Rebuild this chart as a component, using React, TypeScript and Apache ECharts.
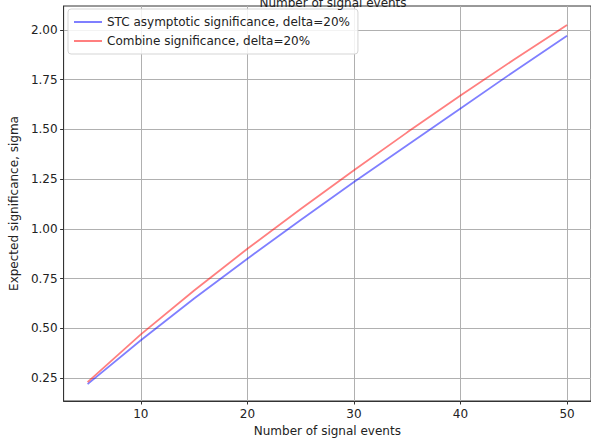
import React, { useEffect, useRef } from "react";
import * as echarts from "echarts";

const signalEvents = [5, 10, 15, 20, 25, 30, 35, 40, 45, 50];
const stcSignificance = [0.22, 0.44, 0.65, 0.85, 1.045, 1.235, 1.42, 1.605, 1.79, 1.97];
const combineSignificance = [0.23, 0.47, 0.69, 0.9, 1.1, 1.295, 1.485, 1.67, 1.85, 2.025];
const xTicks = [10, 20, 30, 40, 50];
const yTicks = [0.25, 0.5, 0.75, 1.0, 1.25, 1.5, 1.75, 2.0];
const seriesNames = ["STC asymptotic significance, delta=20%", "Combine significance, delta=20%"];

const FONT = "DejaVu Sans";
const FS = 12;

export default function App() {
  const ref = useRef<HTMLDivElement>(null);
  useEffect(() => {
    if (!ref.current) return;
    const chart = echarts.init(ref.current, null, { renderer: "svg" });
    const toPairs = (ys: number[]) => signalEvents.map((x, i) => [x, ys[i]]);
    chart.setOption({
      animation: false,
      backgroundColor: "#ffffff",
      textStyle: { fontFamily: FONT },
      title: {
        text: "Number of signal events",
        left: 328,
        textAlign: "center",
        top: -8,
        textStyle: { fontFamily: FONT, fontSize: FS, fontWeight: "normal", color: "#222" },
      },
      grid: {
        left: 63,
        top: 6,
        width: 531,
        height: 398,
        show: true,
        borderColor: "#333",
        borderWidth: 1,
        backgroundColor: "transparent",
      },
      legend: {
        left: 68,
        top: 9,
        orient: "vertical",
        icon: "rect",
        itemWidth: 28,
        itemHeight: 2,
        itemGap: 7,
        padding: [7, 8, 7, 6],
        backgroundColor: "rgba(255,255,255,0.85)",
        borderColor: "#d5d5d5",
        borderWidth: 1,
        borderRadius: 3,
        textStyle: { fontFamily: FONT, fontSize: FS, color: "#222" },
        data: seriesNames,
      },
      xAxis: {
        type: "value",
        min: 2.75,
        max: 52.25,
        name: "Number of signal events",
        nameLocation: "middle",
        nameGap: 24,
        nameTextStyle: { fontFamily: FONT, fontSize: FS, color: "#222" },
        axisLine: { show: true, onZero: false, lineStyle: { color: "#333", width: 1 } },
        axisTick: { show: true, length: 3.5, customValues: xTicks, lineStyle: { color: "#333" } },
        axisLabel: {
          customValues: xTicks,
          margin: 7,
          fontFamily: FONT,
          fontSize: FS,
          color: "#222",
        },
        splitLine: { show: true, lineStyle: { color: "#b0b0b0", width: 1 } },
      },
      yAxis: {
        type: "value",
        min: 0.135,
        max: 2.12,
        name: "Expected significance, sigma",
        nameLocation: "middle",
        nameRotate: 90,
        nameGap: 42,
        nameTextStyle: { fontFamily: FONT, fontSize: FS, color: "#222" },
        axisLine: { show: true, onZero: false, lineStyle: { color: "#333", width: 1 } },
        axisTick: { show: true, length: 3.5, customValues: yTicks, lineStyle: { color: "#333" } },
        axisLabel: {
          customValues: yTicks,
          margin: 6,
          fontFamily: FONT,
          fontSize: FS,
          color: "#222",
          formatter: (v: number) => v.toFixed(2),
        },
        splitLine: { show: true, lineStyle: { color: "#b0b0b0", width: 1 } },
      },
      series: [
        {
          name: seriesNames[0],
          type: "line",
          data: toPairs(stcSignificance),
          symbol: "none",
          color: "rgba(0,0,255,0.5)",
          lineStyle: { color: "rgba(0,0,255,0.5)", width: 1.8 },
          z: 3,
        },
        {
          name: seriesNames[1],
          type: "line",
          data: toPairs(combineSignificance),
          symbol: "none",
          color: "rgba(255,0,0,0.5)",
          lineStyle: { color: "rgba(255,0,0,0.5)", width: 1.8 },
          z: 3,
        },
      ],
    });
    return () => chart.dispose();
  }, []);
  return (
    <div
      ref={ref}
      style={{ position: "fixed", left: 0, top: 0, width: 591, height: 442, background: "#fff" }}
    />
  );
}
